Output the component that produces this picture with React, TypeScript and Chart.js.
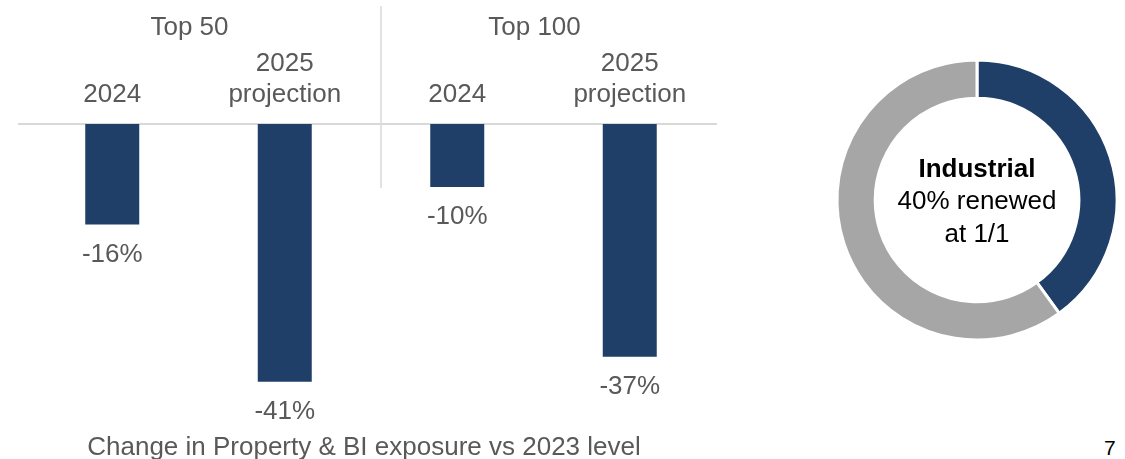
import React, { useEffect, useRef } from "react";
import { Chart, registerables } from "chart.js";

Chart.register(...registerables);

const categories = ["2024", "2025 projection", "2024", "2025 projection"];
const categoryLines = [["2024"], ["2025", "projection"], ["2024"], ["2025", "projection"]];
const groups = ["Top 50", "Top 100"];
const exposureChange = [-16, -41, -10, -37];
const valueLabels = ["-16%", "-41%", "-10%", "-37%"];
const caption = "Change in Property & BI exposure vs 2023 level";

const donutLabels = ["Renewed at 1/1", "Remaining"];
const donutValues = [40, 60];
const donutTitle = "Industrial";
const donutLines = ["40% renewed", "at 1/1"];
const pageNumber = "7";

const FONT = "'Liberation Sans', Arial, sans-serif";
const NAVY = "#1F3F68";
const GRAY_TEXT = "#595959";
const LINE = "#D9D9D9";

export default function App() {
  const barRef = useRef<HTMLCanvasElement>(null);
  const donutRef = useRef<HTMLCanvasElement>(null);

  useEffect(() => {
    const barPlugin = {
      id: "barDecor",
      beforeDatasetsDraw(chart: any) {
        const { ctx, chartArea, scales } = chart;
        const y0 = scales.y.getPixelForValue(0);
        const xs = categories.map((_, i) => scales.x.getPixelForValue(i));
        ctx.save();
        ctx.strokeStyle = LINE;
        ctx.lineWidth = 2;
        ctx.beginPath();
        ctx.moveTo(chartArea.left - 8, y0);
        ctx.lineTo(chartArea.right + 1, y0);
        ctx.stroke();
        const divX = (xs[1] + xs[2]) / 2 + 10;
        ctx.lineWidth = 1.5;
        ctx.beginPath();
        ctx.moveTo(divX, 6);
        ctx.lineTo(divX, y0 + 64);
        ctx.stroke();
        ctx.restore();
      },
      afterDatasetsDraw(chart: any) {
        const { ctx, scales } = chart;
        const meta = chart.getDatasetMeta(0);
        const y0 = scales.y.getPixelForValue(0);
        const xs = categories.map((_, i) => scales.x.getPixelForValue(i));
        ctx.save();
        ctx.fillStyle = GRAY_TEXT;
        ctx.font = `26px ${FONT}`;
        ctx.textAlign = "center";
        ctx.textBaseline = "middle";
        meta.data.forEach((bar: any, i: number) => {
          ctx.fillText(valueLabels[i], bar.x, bar.y + 30);
        });
        categoryLines.forEach((lines, i) => {
          const n = lines.length;
          lines.forEach((t, j) => {
            ctx.fillText(t, xs[i], y0 - 29 - (n - 1 - j) * 31);
          });
        });
        groups.forEach((g, k) => {
          const cx = (xs[k * 2] + xs[k * 2 + 1]) / 2 - 9;
          ctx.fillText(g, cx, y0 - 96);
        });
        ctx.restore();
      },
    };

    const bar = new Chart(barRef.current!, {
      type: "bar",
      data: {
        labels: categories,
        datasets: [
          {
            data: exposureChange,
            backgroundColor: NAVY,
            barPercentage: 0.313,
            categoryPercentage: 1,
          },
        ],
      },
      options: {
        responsive: false,
        animation: false,
        layout: { padding: { top: 124, bottom: 52, left: 26, right: 4 } },
        plugins: { legend: { display: false }, tooltip: { enabled: false } },
        scales: {
          x: { display: false },
          y: { display: false, min: -45, max: 0 },
        },
      },
      plugins: [barPlugin],
    });

    const donutPlugin = {
      id: "donutCenter",
      afterDraw(chart: any) {
        const { ctx } = chart;
        const arc = chart.getDatasetMeta(0).data[0];
        const cx = arc.x;
        const cy = arc.y;
        ctx.save();
        ctx.fillStyle = "#000";
        ctx.textAlign = "center";
        ctx.textBaseline = "middle";
        ctx.font = `bold 26px ${FONT}`;
        ctx.fillText(donutTitle, cx, cy - 30);
        ctx.font = `26px ${FONT}`;
        donutLines.forEach((t, i) => ctx.fillText(t, cx, cy + 2 + i * 33));
        ctx.restore();
      },
    };

    const donut = new Chart(donutRef.current!, {
      type: "doughnut",
      data: {
        labels: donutLabels,
        datasets: [
          {
            data: donutValues,
            backgroundColor: [NAVY, "#A6A6A6"],
            borderColor: "#FFFFFF",
            borderWidth: 3,
            hoverOffset: 0,
          },
        ],
      },
      options: {
        responsive: false,
        animation: false,
        radius: 140,
        cutout: 108,
        plugins: { legend: { display: false }, tooltip: { enabled: false } },
      } as any,
      plugins: [donutPlugin],
    });

    return () => {
      bar.destroy();
      donut.destroy();
    };
  }, []);

  return (
    <div
      style={{
        position: "absolute",
        left: 0,
        top: 0,
        width: 1125,
        height: 459,
        overflow: "hidden",
        background: "#fff",
        fontFamily: FONT,
      }}
    >
      <canvas
        ref={barRef}
        width={720}
        height={459}
        style={{ position: "absolute", left: 0, top: 0, width: 720, height: 459 }}
      />
      <canvas
        ref={donutRef}
        width={300}
        height={300}
        style={{ position: "absolute", left: 827, top: 50, width: 300, height: 300 }}
      />
      <div
        style={{
          position: "absolute",
          left: 0,
          width: 728,
          top: 431,
          textAlign: "center",
          fontSize: 26,
          lineHeight: "30px",
          color: GRAY_TEXT,
          whiteSpace: "nowrap",
        }}
      >
        {caption}
      </div>
      <div
        style={{
          position: "absolute",
          left: 1104,
          top: 436,
          fontSize: 21,
          lineHeight: "24px",
          color: "#000",
        }}
      >
        {pageNumber}
      </div>
    </div>
  );
}
